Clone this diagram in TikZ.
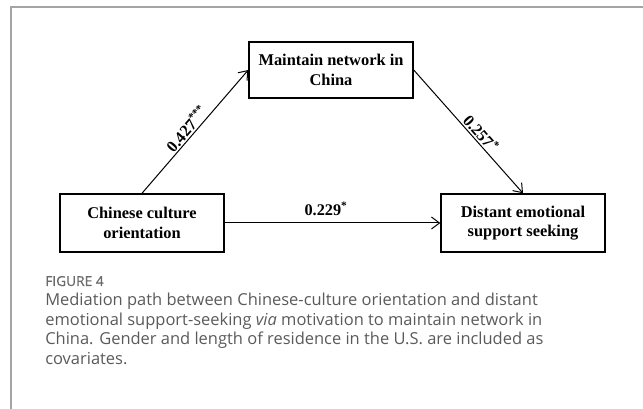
\documentclass[tikz,border=0pt]{standalone}
\usepackage{fontspec}
\setmainfont{Liberation Serif}
\newfontfamily\capfont{Open Sans}
\newfontfamily\figfont{Open Sans}[FakeBold=0.8]
\usetikzlibrary{arrows.meta}
\definecolor{framegray}{HTML}{A4A4A4}
\definecolor{capgray}{HTML}{5A5A5A}
\definecolor{figgray}{HTML}{6A6A6A}
\begin{document}
\begin{tikzpicture}[x=0.75pt,y=-0.75pt,
  box/.style={draw, line width=1.1pt, minimum width=123pt, minimum height=43.5pt, align=center,
    font=\fontsize{12.3}{14.5}\selectfont\bfseries, inner sep=0pt},
  pathline/.style={line width=0.75pt, -{Straight Barb[length=6pt,width=9pt]}},
  coef/.style={font=\fontsize{12.2}{14}\selectfont\bfseries, inner sep=1pt},
  captext/.style={font=\capfont\fontsize{12.35}{14}\selectfont, text=capgray, anchor=base west, inner sep=0pt}]
\useasboundingbox (0,0) rectangle (643,409);
\draw[framegray, line width=1.3pt] (11,409) -- (11,7) -- (643,7);

\node[box, minimum height=42pt] (M) at (331,70) {Maintain network in\\China};
\node[box] (L) at (142,223) {Chinese culture\\orientation};
\node[box] (R) at (523,223) {Distant emotional\\support seeking};

\draw[pathline] (L.north) -- node[coef, sloped, above, pos=0.48] {0.427\textsuperscript{***}} (M.west);
\draw[pathline] (M.east) -- node[coef, sloped, above, pos=0.56] {0.257\textsuperscript{*}} (R.north);
\draw[pathline] (L.east) -- node[coef, above=4pt, pos=0.47] {0.229\textsuperscript{*}} (R.west);

\node[captext, font=\figfont\fontsize{10.3}{12}\selectfont, text=figgray] (fig) at (45,286) {FIGURE 4};
\node[captext] (c1) at (45,306) {Mediation path between Chinese-culture orientation and distant};
\node[captext] (c2) at (45,325.5) {emotional support-seeking \textit{via} motivation to maintain network in};
\node[captext] (c3) at (45,345) {China. Gender and length of residence in the U.S. are included as};
\node[captext] (c4) at (45,364.5) {covariates.};
\end{tikzpicture}
\end{document}
